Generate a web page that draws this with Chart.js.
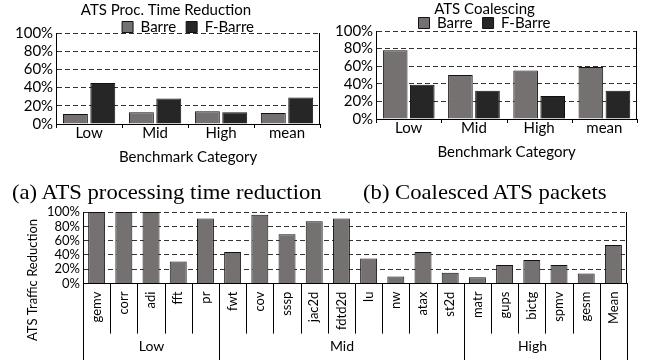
<!DOCTYPE html>
<html><head><meta charset="utf-8">
<script src="https://cdn.jsdelivr.net/npm/chart.js@4"></script>
<style>
html,body{margin:0;padding:0;background:#fff;}
#wrap{position:relative;width:648px;height:360px;overflow:hidden;background:#fff;}
canvas{position:absolute;}
.cap{position:absolute;font-family:"Liberation Serif","Times New Roman",serif;font-size:22px;line-height:22px;white-space:nowrap;color:#000;transform-origin:0 0;transform:scaleX(1.03);}
</style></head><body>
<div id="wrap">
<canvas id="ca" width="324" height="170" style="left:0;top:0"></canvas>
<canvas id="cb" width="324" height="170" style="left:324px;top:0"></canvas>
<canvas id="cc" width="648" height="165" style="left:0;top:195px"></canvas>
<div class="cap" style="left:12px;top:181px">(a) ATS processing time reduction</div>
<div class="cap" style="left:363px;top:181px">(b) Coalesced ATS packets</div>
</div>
<script>
// ---- data ----
const categories = ['Low', 'Mid', 'High', 'mean'];
const seriesNames = ['Barre', 'F-Barre'];
const procTimeBarre = [11, 13, 14, 12];
const procTimeFBarre = [45, 28, 13, 29];
const coalesceBarre = [78, 50, 55, 59];
const coalesceFBarre = [39, 32, 26, 32];
const benchmarks = ['gemv','corr','adi','fft','pr','fwt','cov','sssp','jac2d','fdtd2d','lu','nw','atax','st2d','matr','gups','bictg','spmv','gesm','Mean'];
const trafficReduction = [100,100,100,31,91,44,96,69,87,91,35,10,44,15,9,26,33,26,14,54];
const groupNames = ['Low', 'Mid', 'High', ''];
const groupSizes = [5, 9, 5, 1];

// ---- styles ----
const FONT = 'Lato, "Open Sans", sans-serif';
Chart.defaults.font.family = FONT;
Chart.defaults.color = '#000';
const BARRE = '#767171';
const FBARRE = '#262626';
const EDGE = '#111111';

function boundaryX(chart, i) {
  const xs = chart.scales.x;
  const n = chart.data.labels.length;
  const step = n > 1 ? xs.getPixelForValue(1) - xs.getPixelForValue(0) : xs.width;
  return Math.round(xs.getPixelForValue(0) - step / 2 + i * step) + 0.5;
}

const framePlugin = {
  id: 'frame',
  afterDraw(chart, args, opts) {
    const { ctx, chartArea: a } = chart;
    const n = chart.data.labels.length;
    ctx.save();
    ctx.strokeStyle = '#000';
    ctx.lineWidth = 1;
    ctx.setLineDash([]);
    ctx.beginPath();
    const r = Math.round(a.right) - 0.5;
    ctx.moveTo(r, a.top); ctx.lineTo(r, a.bottom);
    if (opts.tickLen) {
      for (let i = 0; i <= n; i++) {
        const x = boundaryX(chart, i);
        ctx.moveTo(x, a.bottom); ctx.lineTo(x, a.bottom + opts.tickLen);
      }
    }
    if (opts.groups) {
      const starts = new Set();
      let acc = 0;
      starts.add(0);
      groupSizes.forEach(s => { acc += s; starts.add(acc); });
      for (let i = 0; i <= n; i++) {
        const x = boundaryX(chart, i);
        const end = starts.has(i) ? chart.height : a.bottom + opts.catLen;
        ctx.moveTo(x, a.bottom); ctx.lineTo(x, end);
      }
    }
    ctx.stroke();
    if (opts.groups) {
      ctx.fillStyle = '#000';
      ctx.font = '14px ' + FONT;
      ctx.textAlign = 'center';
      ctx.textBaseline = 'middle';
      const gy = (a.bottom + opts.catLen + chart.height) / 2;
      let acc = 0;
      groupNames.forEach((g, k) => {
        const x0 = boundaryX(chart, acc);
        acc += groupSizes[k];
        const x1 = boundaryX(chart, acc);
        if (g) ctx.fillText(g, (x0 + x1) / 2, gy);
      });
    }
    if (opts.yTitle) {
      ctx.fillStyle = '#000';
      ctx.font = '13px ' + FONT;
      ctx.textAlign = 'center';
      ctx.textBaseline = 'middle';
      ctx.translate(opts.yTitleX, (a.top + chart.height) / 2 - 6);
      ctx.rotate(-Math.PI / 2);
      ctx.fillText(opts.yTitle, 0, 0);
    }
    ctx.restore();
  }
};

function yAxis(size) {
  return {
    min: 0, max: 100,
    ticks: { stepSize: 20, autoSkip: false, callback: v => v + '%', font: { size: size }, color: '#000', padding: 3 },
    grid: { color: '#333', drawTicks: false, lineWidth: 1 },
    border: { display: true, color: '#000', width: 1, dash: [5, 3] }
  };
}

function pairChart(id, title, a, b, pad, titlePad, legendMax, fullSizeLegend) {
  return new Chart(document.getElementById(id), {
    type: 'bar',
    data: {
      labels: categories,
      datasets: [
        { label: seriesNames[0], data: a, backgroundColor: BARRE, borderColor: EDGE, borderWidth: 1, categoryPercentage: 0.83, barPercentage: 0.91 },
        { label: seriesNames[1], data: b, backgroundColor: FBARRE, borderColor: EDGE, borderWidth: 1, categoryPercentage: 0.83, barPercentage: 0.91 }
      ]
    },
    options: {
      responsive: false, animation: false, devicePixelRatio: 1,
      layout: { padding: pad },
      plugins: {
        title: { display: true, text: title, font: { size: 15, weight: 'normal' }, color: '#000', padding: titlePad },
        legend: { display: true, fullSize: fullSizeLegend, maxHeight: legendMax,
          labels: { boxWidth: 11, boxHeight: 11, padding: 10, font: { size: 15 }, color: '#000' } },
        tooltip: { enabled: false },
        frame: { tickLen: 4 }
      },
      scales: {
        x: {
          grid: { display: false, drawTicks: false },
          border: { display: true, color: '#000', width: 1 },
          ticks: { padding: 0, font: { size: 15 }, color: '#000' },
          title: { display: true, text: 'Benchmark Category', font: { size: 15 }, color: '#000', padding: { top: 6, bottom: 0 } }
        },
        y: yAxis(15)
      }
    },
    plugins: [framePlugin]
  });
}

pairChart('ca', 'ATS Proc. Time Reduction', procTimeBarre, procTimeFBarre,
  { left: 12, right: 4, top: 0, bottom: 4 }, { top: 1, bottom: -9.5 }, 23.5, false);
pairChart('cb', 'ATS Coalescing', coalesceBarre, coalesceFBarre,
  { left: 8, right: 11, top: 0, bottom: 9 }, { top: 0, bottom: -12.5 }, 25.5, true);

new Chart(document.getElementById('cc'), {
  type: 'bar',
  data: {
    labels: benchmarks,
    datasets: [{ label: 'ATS Traffic Reduction', data: trafficReduction, backgroundColor: BARRE, borderColor: EDGE, borderWidth: 1, categoryPercentage: 0.8, barPercentage: 0.78 }]
  },
  options: {
    responsive: false, animation: false, devicePixelRatio: 1,
    layout: { padding: { left: 44, right: 21, top: 17, bottom: 22 } },
    plugins: {
      legend: { display: false }, title: { display: false }, tooltip: { enabled: false },
      frame: { groups: true, catLen: 50, yTitle: 'ATS Traffic Reduction', yTitleX: 33 }
    },
    scales: {
      x: {
        grid: { display: false, drawTicks: false },
        border: { display: true, color: '#000', width: 1 },
        ticks: { autoSkip: false, minRotation: 90, maxRotation: 90, padding: 8, font: { size: 13 }, color: '#000' }
      },
      y: yAxis(13)
    }
  },
  plugins: [framePlugin]
});
</script>
</body></html>
